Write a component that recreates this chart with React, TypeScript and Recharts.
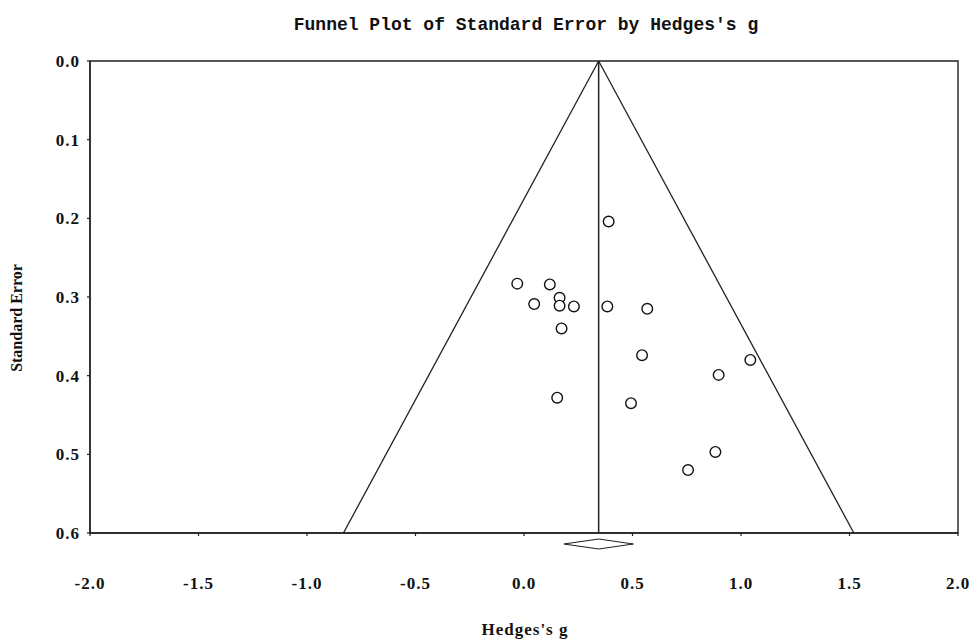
import React from 'react';
import { ComposedChart, Scatter, XAxis, YAxis, ReferenceLine, ReferenceArea } from 'recharts';

// Study effect sizes (Hedges's g) and standard errors
const hedgesG = [0.39, -0.031, 0.119, 0.164, 0.047, 0.164, 0.23, 0.173, 0.384, 0.568, 0.153, 0.544, 0.493, 1.043, 0.897, 0.882, 0.756];
const standardError = [0.204, 0.283, 0.284, 0.301, 0.309, 0.311, 0.312, 0.34, 0.312, 0.315, 0.428, 0.374, 0.435, 0.38, 0.399, 0.497, 0.52];

const xTicks = [-2, -1.5, -1, -0.5, 0, 0.5, 1, 1.5, 2];
const yTicks = [0, 0.1, 0.2, 0.3, 0.4, 0.5, 0.6];

// Pooled estimate, confidence interval (diamond) and funnel bounds at SE = 0.6
const pooledG = 0.344;
const ciLower = 0.184;
const ciUpper = 0.504;
const funnelLeftAtMax = -0.832;
const funnelRightAtMax = 1.52;
const seMax = 0.6;
const diamondSE = [0.6076, 0.614, 0.6203]; // top, middle, bottom

const points = hedgesG.map((g, i) => ({ g, se: standardError[i] }));

const INK = '#222';
const SERIF = '"Liberation Serif", "DejaVu Serif", serif';

const XTick = (props: any) => {
  const { x, y, payload } = props;
  return (
    <text x={x} y={y + 53} textAnchor="middle" fontFamily={SERIF} fontWeight="bold" fontSize={17} letterSpacing={1} fill="#111">
      {Number(payload.value).toFixed(1)}
    </text>
  );
};

const YTick = (props: any) => {
  const { x, y, payload } = props;
  return (
    <text x={x - 7} y={y + 6} textAnchor="end" fontFamily={SERIF} fontWeight="bold" fontSize={17} letterSpacing={1} fill="#111">
      {Number(payload.value).toFixed(1)}
    </text>
  );
};

const Circle = (props: any) => {
  const { cx, cy } = props;
  return <circle cx={cx} cy={cy} r={5.3} fill="#fff" stroke="#111" strokeWidth={1.4} />;
};

export default function App() {
  const W = 971;
  const H = 640;
  return (
    <div style={{ position: 'absolute', left: 0, top: 0, width: W, height: H, background: '#fff' }}>
      <ComposedChart
        width={W}
        height={H}
        data={points}
        margin={{ top: 61, right: 13, bottom: 57, left: 0 }}
      >
        <XAxis
          type="number"
          dataKey="g"
          domain={[-2, 2]}
          ticks={xTicks}
          interval={0}
          height={50}
          tickSize={3}
          tickMargin={0}
          axisLine={{ stroke: INK, strokeWidth: 1.4 }}
          tickLine={{ stroke: INK, strokeWidth: 1.2 }}
          tick={<XTick />}
          allowDataOverflow
        />
        <YAxis
          type="number"
          dataKey="se"
          domain={[0, seMax]}
          reversed
          ticks={yTicks}
          interval={0}
          width={90}
          tickSize={3}
          tickMargin={0}
          axisLine={{ stroke: INK, strokeWidth: 1.4 }}
          tickLine={{ stroke: INK, strokeWidth: 1.2 }}
          tick={<YTick />}
          allowDataOverflow
        />
        <ReferenceArea x1={-2} x2={2} y1={0} y2={seMax} fill="none" fillOpacity={0} stroke={INK} strokeWidth={1.4} ifOverflow="visible" />
        <ReferenceLine
          segment={[{ x: pooledG, y: 0 }, { x: funnelLeftAtMax, y: seMax }]}
          stroke={INK}
          strokeWidth={1.3}
          ifOverflow="visible"
        />
        <ReferenceLine
          segment={[{ x: pooledG, y: 0 }, { x: funnelRightAtMax, y: seMax }]}
          stroke={INK}
          strokeWidth={1.3}
          ifOverflow="visible"
        />
        <ReferenceLine
          segment={[{ x: pooledG, y: 0 }, { x: pooledG, y: seMax }]}
          stroke={INK}
          strokeWidth={1.5}
          ifOverflow="visible"
        />
        <ReferenceLine segment={[{ x: ciLower, y: diamondSE[1] }, { x: pooledG, y: diamondSE[0] }]} stroke={INK} strokeWidth={1.2} ifOverflow="visible" />
        <ReferenceLine segment={[{ x: pooledG, y: diamondSE[0] }, { x: ciUpper, y: diamondSE[1] }]} stroke={INK} strokeWidth={1.2} ifOverflow="visible" />
        <ReferenceLine segment={[{ x: ciUpper, y: diamondSE[1] }, { x: pooledG, y: diamondSE[2] }]} stroke={INK} strokeWidth={1.2} ifOverflow="visible" />
        <ReferenceLine segment={[{ x: pooledG, y: diamondSE[2] }, { x: ciLower, y: diamondSE[1] }]} stroke={INK} strokeWidth={1.2} ifOverflow="visible" />
        <Scatter dataKey="se" data={points} shape={<Circle />} isAnimationActive={false} />
      </ComposedChart>
      <svg width={W} height={H} style={{ position: 'absolute', left: 0, top: 0, pointerEvents: 'none' }}>
        <text x={526} y={30} textAnchor="middle" fontFamily='"Liberation Mono", "DejaVu Sans Mono", monospace' fontWeight="bold" fontSize={18} fill="#111">
          Funnel Plot of Standard Error by Hedges's g
        </text>
        <text x={525} y={635} textAnchor="middle" fontFamily={SERIF} fontWeight="bold" fontSize={17} letterSpacing={1} fill="#111">
          Hedges's g
        </text>
        <text transform="rotate(-90)" x={-318} y={22} textAnchor="middle" fontFamily={SERIF} fontWeight="bold" fontSize={16} fill="#111">
          Standard Error
        </text>
      </svg>
    </div>
  );
}
